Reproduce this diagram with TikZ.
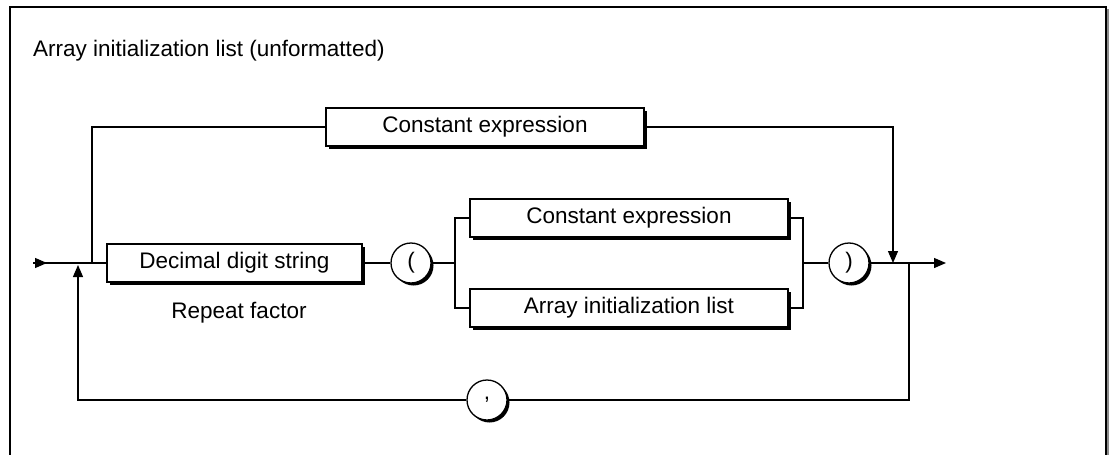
\documentclass[tikz,border=0pt]{standalone}
\usepackage{fontspec}
\setmainfont{Liberation Sans}
\usetikzlibrary{arrows.meta,shadows}
\begin{document}
\begin{tikzpicture}[x=1pt,y=-1pt,
  every node/.style={font=\fontsize{22.5}{27}\selectfont, inner sep=0pt},
  line/.style={line width=1.3pt, black},
  arr/.style={line, -{Triangle[length=12pt,width=10pt]}},
  sbox/.style={draw, line width=1.3pt, fill=white, minimum height=38pt,
    drop shadow={opacity=1, fill=black, shadow xshift=3pt, shadow yshift=-3pt}},
  scirc/.style={draw, circle, line width=1.3pt, fill=white, minimum size=40pt,
    drop shadow={opacity=1, fill=black, shadow xshift=2.5pt, shadow yshift=-2.5pt}}]
\useasboundingbox (0,0) rectangle (1111,455);
% frame
\draw[line width=1.6pt] (10,470) -- (10,7) -- (1106,7) -- (1106,470);
\draw[black!45, line width=1.2pt] (1108,9) -- (1108,470);
\node[anchor=base west] (title) at (33,56) {Array initialization list (unformatted)};
% coordinates
\coordinate (in) at (33,263);
\coordinate (inarr) at (47,263);
\coordinate (merge) at (78,265);
\coordinate (split) at (92,263);
\coordinate (bl) at (455,263);
\coordinate (br) at (803,263);
\coordinate (join) at (893,263);
\coordinate (loop) at (909,263);
\coordinate (out) at (946,263);
% boxes
\node[sbox, minimum width=318pt] (top) at (485,127) {Constant expression};
\node[sbox, minimum width=255pt] (dec) at (234.5,263) {Decimal digit string};
\node[anchor=base] (rf) at (239,318) {Repeat factor};
\node[scirc] (lp) at (411,263) {(};
\node[sbox, minimum width=318pt] (ce) at (629,218) {Constant expression};
\node[sbox, minimum width=318pt] (ail) at (629,308) {Array initialization list};
\node[scirc] (rp) at (849,263) {)};
\node[scirc] (comma) at (487,400) {,};
% connectors
\draw[line] (in) -- (dec.west);
\draw[arr] (in) -- (inarr);
\draw[line] (split) |- (top.west);
\draw[arr] (top.east) -| (join);
\draw[line] (dec.east) -- (lp.west);
\draw[line] (lp.east) -- (bl);
\draw[line] (ce.west) -| (bl) |- (ail.west);
\draw[line] (ce.east) -| (br) |- (ail.east);
\draw[line] (br) -- (rp.west);
\draw[arr] (rp.east) -- (out);
\draw[line] (loop) |- (comma.east);
\draw[arr] (comma.west) -| (merge);
\end{tikzpicture}
\end{document}
